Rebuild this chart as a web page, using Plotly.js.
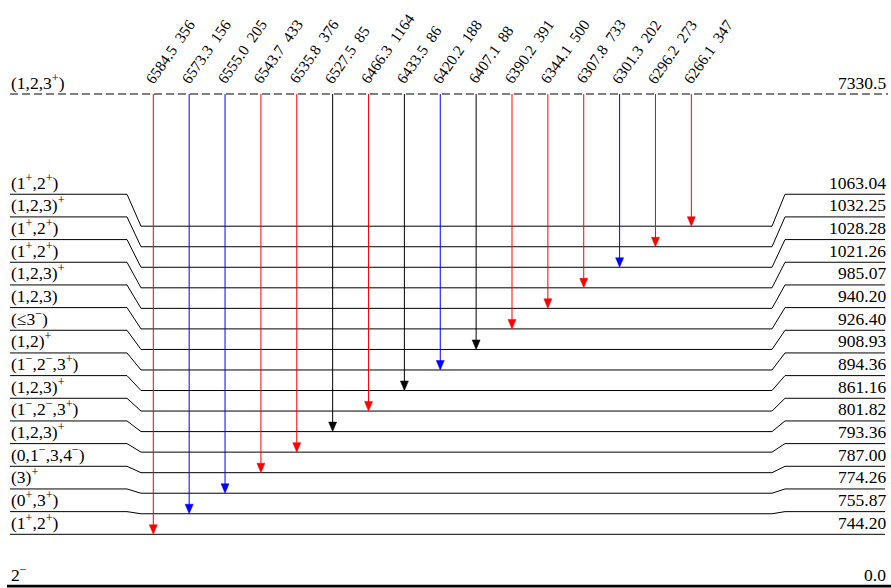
<!DOCTYPE html>
<html><head><meta charset="utf-8">
<script src="https://cdn.plot.ly/plotly-3.0.1.min.js"></script>
<style>html,body{margin:0;padding:0;background:#fff;overflow:hidden}</style>
</head><body><div id="chart" style="width:891px;height:588px"></div>
<script>
// ---- data ----
const levelEnergies = ["744.20","755.87","774.26","787.00","793.36","801.82","861.16","894.36","908.93","926.40","940.20","985.07","1021.26","1028.28","1032.25","1063.04"];
const levelSpins = ["(1^+,2^+)","(0^+,3^+)","(3)^+","(0,1^−,3,4^−)","(1,2,3)^+","(1^−,2^−,3^+)","(1,2,3)^+","(1^−,2^−,3^+)","(1,2)^+","(≤3^−)","(1,2,3)","(1,2,3)^+","(1^+,2^+)","(1^+,2^+)","(1,2,3)^+","(1^+,2^+)"];
const captureEnergy = "7330.5";
const captureSpin = "(1,2,3^+)";
const groundEnergy = "0.0";
const groundSpin = "2^−";
const gammaEnergies = ["6584.5","6573.3","6555.0","6543.7","6535.8","6527.5","6466.3","6433.5","6420.2","6407.1","6390.2","6344.1","6307.8","6301.3","6296.2","6266.1"];
const gammaIntensities = [356,156,205,433,376,85,1164,86,188,88,391,500,733,202,273,347];
const gammaFinal = ["744.20","755.87","774.26","787.00","793.36","801.82","861.16","894.36","908.93","926.40","940.20","985.07","1021.26","1028.28","1032.25","1063.04"];
const gammaColors = ["#ff0000","#0000ff","#0000ff","#ff0000","#ff0000","#000000","#ff0000","#000000","#0000ff","#000000","#ff0000","#ff0000","#ff0000","#0000ff","#ff0000","#ff0000"];

// ---- layout geometry (diagram coordinates) ----
const Y0 = 534.3, DMID = 20.54, DLAB = 22.67;
const TOP_Y = 94, GROUND_Y = 586.2;
const X_L0 = 10, X_L1 = 127, X_M0 = 141, X_M1 = 772, X_R0 = 785, X_R1 = 885;
const GX0 = 153.3, GDX = 35.87;
const mid = i => Y0 - i * DMID;
const lab = i => Y0 - i * DLAB;
const FONT = "Liberation Serif";
const FS = 17.5;
const ANG = 55;
// "^x" -> superscript markup
const sup = s => s.replace(/\^([+−])/g, '<sup>$1</sup>');

const traces = [];
// levels
const lx = [], ly = [];
levelEnergies.forEach((e, i) => {
  lx.push(X_L0, X_L1, X_M0, X_M1, X_R0, X_R1, null);
  ly.push(lab(i), lab(i), mid(i), mid(i), lab(i), lab(i), null);
});
traces.push({x: lx, y: ly, mode: "lines", line: {color: "#000", width: 1}, hoverinfo: "skip"});
// capture state (dashed)
traces.push({x: [X_L0, 888], y: [TOP_Y, TOP_Y], mode: "lines", line: {color: "#000", width: 1, dash: "8px,4px"}, hoverinfo: "skip"});
// ground state
traces.push({x: [7, 891], y: [GROUND_Y, GROUND_Y], mode: "lines", line: {color: "#000", width: 2.7}, hoverinfo: "skip"});

const annotations = [];
// gammas
gammaEnergies.forEach((g, k) => {
  const idx = levelEnergies.indexOf(gammaFinal[k]);
  const x = GX0 + k * GDX;
  const yEnd = mid(idx);
  const c = gammaColors[k];
  traces.push({x: [x, x], y: [TOP_Y, yEnd - 9], mode: "lines", line: {color: c, width: 1}, hoverinfo: "skip"});
  traces.push({x: [x - 4, x + 4, x, x - 4], y: [yEnd - 9.5, yEnd - 9.5, yEnd, yEnd - 9.5], mode: "lines", fill: "toself", fillcolor: c, line: {color: c, width: 0.5}, hoverinfo: "skip"});
  annotations.push({
    x: x - 11.3, y: 86.5, xref: "x", yref: "y", xanchor: "left", yanchor: "bottom",
    text: g + "\u00a0\u00a0" + gammaIntensities[k], textangle: -ANG, showarrow: false,
    font: {family: FONT, size: 15.5, color: "#000"}, borderpad: 0, borderwidth: 0
  });
});
// level labels
levelEnergies.forEach((e, i) => {
  annotations.push({x: 11, y: lab(i) - 1.5, xref: "x", yref: "y", xanchor: "left", yanchor: "bottom", text: sup(levelSpins[i]), showarrow: false, font: {family: FONT, size: FS, color: "#000"}, borderpad: 0, borderwidth: 0});
  annotations.push({x: 886, y: lab(i) - 1.5, xref: "x", yref: "y", xanchor: "right", yanchor: "bottom", text: e, showarrow: false, font: {family: FONT, size: FS, color: "#000"}, borderpad: 0, borderwidth: 0});
});
annotations.push({x: 11, y: TOP_Y - 1.5, xref: "x", yref: "y", xanchor: "left", yanchor: "bottom", text: sup(captureSpin), showarrow: false, font: {family: FONT, size: FS, color: "#000"}, borderpad: 0, borderwidth: 0});
annotations.push({x: 886, y: TOP_Y - 1.5, xref: "x", yref: "y", xanchor: "right", yanchor: "bottom", text: captureEnergy, showarrow: false, font: {family: FONT, size: FS, color: "#000"}, borderpad: 0, borderwidth: 0});
annotations.push({x: 11, y: GROUND_Y - 1, xref: "x", yref: "y", xanchor: "left", yanchor: "bottom", text: sup(groundSpin), showarrow: false, font: {family: FONT, size: FS, color: "#000"}, borderpad: 0, borderwidth: 0});
annotations.push({x: 886, y: GROUND_Y - 1, xref: "x", yref: "y", xanchor: "right", yanchor: "bottom", text: groundEnergy, showarrow: false, font: {family: FONT, size: FS, color: "#000"}, borderpad: 0, borderwidth: 0});

const layout = {
  width: 891, height: 588,
  margin: {l: 0, r: 0, t: 0, b: 0, pad: 0},
  paper_bgcolor: "#fff", plot_bgcolor: "#fff",
  showlegend: false,
  font: {family: FONT},
  xaxis: {range: [0, 891], visible: false, fixedrange: true},
  yaxis: {range: [588, 0], visible: false, fixedrange: true},
  annotations: annotations,
  hovermode: false
};
Plotly.newPlot("chart", traces, layout, {staticPlot: true, displayModeBar: false});
</script></body></html>
